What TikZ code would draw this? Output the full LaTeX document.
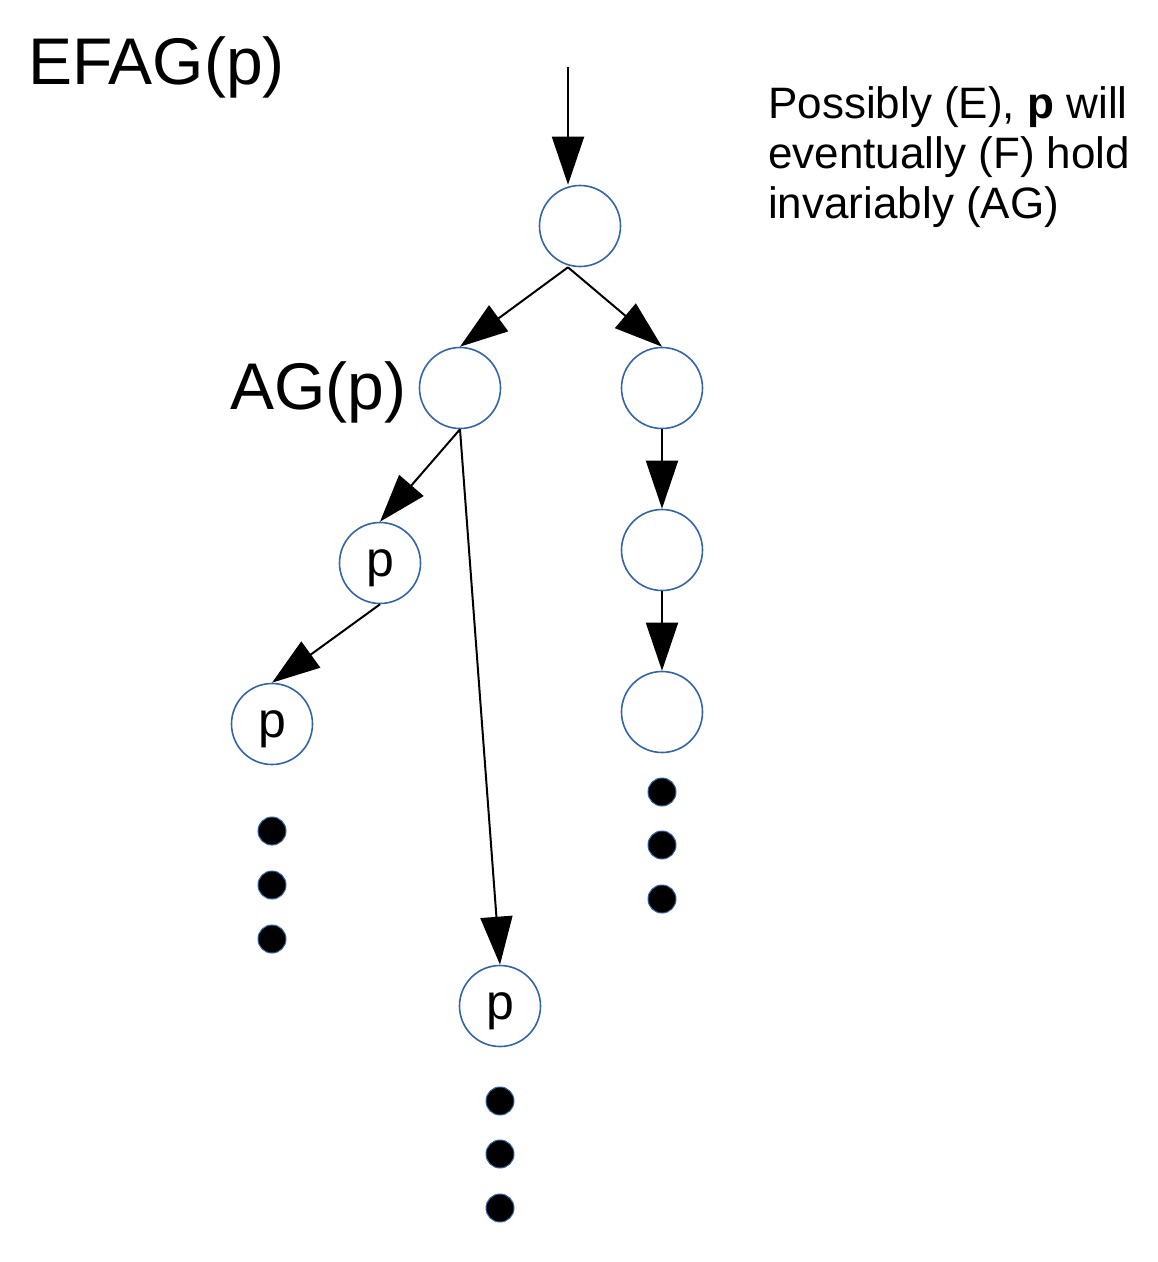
\documentclass[tikz,border=0pt]{standalone}
\usepackage{fontspec}
\setmainfont{Liberation Sans}
\usetikzlibrary{arrows.meta}
\definecolor{stateblue}{HTML}{3465A4}

\begin{document}
\begin{tikzpicture}[x=1pt, y=-1pt,
    state/.style={circle, draw=stateblue, line width=1.6pt, minimum size=81pt, inner sep=0pt,
        text height=36pt, text depth=10pt, font=\fontsize{50}{60}\selectfont},
    more/.style={circle, fill=black, draw=stateblue, line width=1pt, minimum size=28pt, inner sep=0pt},
    trans/.style={-{Triangle[length=48pt, width=32pt]}, line width=2pt},
    big/.style={anchor=base west, inner sep=0pt, font=\fontsize{66}{80}\selectfont}]
    \useasboundingbox (0, 0) rectangle (1158, 1262);

    % formulas
    \node [big] (efag) at (28, 84) {EFAG(p)};
    \node [big] (agp) at (230, 409) {AG(p)};
    \node [anchor=base west, inner sep=0pt, align=left, font=\fontsize{44}{50}\selectfont] (note) at (768, 218)
        {Possibly (E), \textbf{p} will\\eventually (F) hold\\invariably (AG)};

    % states
    \node [state] (root) at (580, 226) {};
    \node [state] (ag) at (460, 388) {};
    \node [state] (r1) at (662, 388) {};
    \node [state] (p1) at (380, 563) {p};
    \node [state] (r2) at (662, 550) {};
    \node [state] (p2) at (272, 724) {p};
    \node [state] (r3) at (662, 712) {};
    \node [state] (p3) at (500, 1006) {p};

    % paths go on
    \foreach \y in {831, 885, 939} \node [more] (dl\y) at (272, \y) {};
    \foreach \y in {1101, 1154, 1208} \node [more] (dm\y) at (500, \y) {};
    \foreach \y in {792, 845, 899} \node [more] (dr\y) at (662, \y) {};

    % transitions
    \coordinate (init) at (568, 67);
    \draw [trans] (init) -- ([xshift=-12pt]root.north);
    \draw [trans] ([xshift=-12pt]root.south) -- (ag.north);
    \draw [trans] ([xshift=-12pt]root.south) -- (r1.north);
    \draw [trans] (ag.south) -- (p1.north);
    \draw [trans] (ag.south) -- (p3.north);
    \draw [trans] (p1.south) -- (p2.north);
    \draw [trans] (r1.south) -- (r2.north);
    \draw [trans] (r2.south) -- (r3.north);
\end{tikzpicture}
\end{document}
